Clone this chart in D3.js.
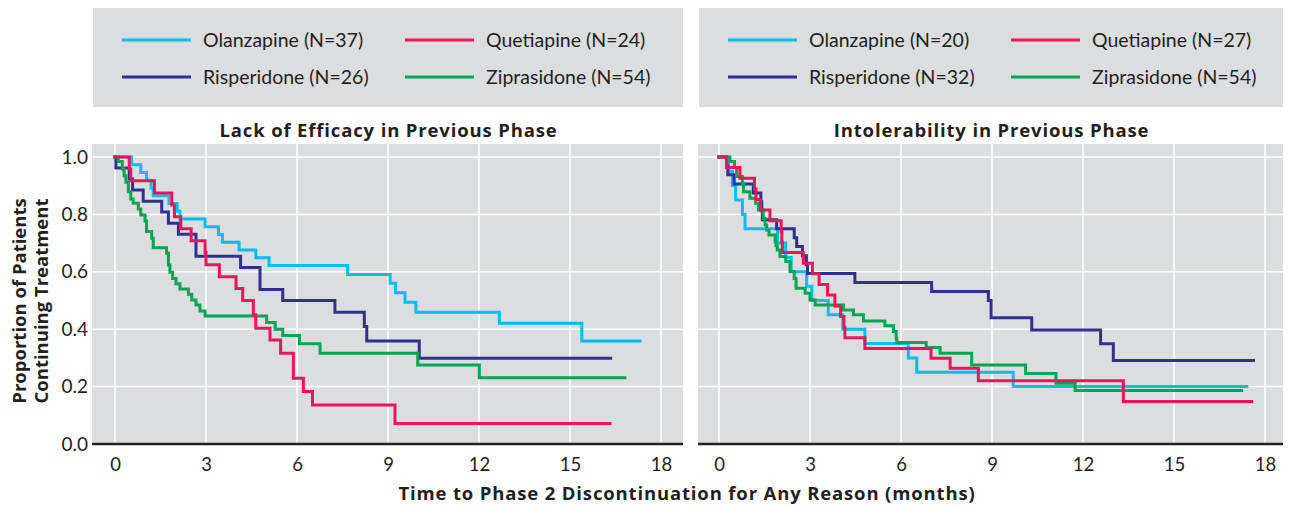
<!DOCTYPE html>
<html>
<head>
<meta charset="utf-8">
<script src="https://cdn.jsdelivr.net/npm/d3@7"></script>
<style>
  body { margin: 0; background: #fff; }
  text { font-family: Lato, "Open Sans", sans-serif; fill: #231f20; }
  .bold { font-family: "Open Sans", Lato, sans-serif; font-weight: bold; }
</style>
</head>
<body>
<script>
// drug names / colours
const drugs = ['Olanzapine', 'Quetiapine', 'Risperidone', 'Ziprasidone']
const colors = ['#00bdf2', '#ee1459', '#2e3192', '#00a651']

const effN = [37, 24, 26, 54]
const tolN = [20, 27, 32, 54]

const xTicks = [0, 3, 6, 9, 12, 15, 18]
const yTicks = [0, 0.2, 0.4, 0.6, 0.8, 1.0]

// Lack of efficacy in previous phase: [month, proportion]
const effOlanzapine = [[0,1],[0.55,0.973],[0.85,0.946],[1.04,0.919],[1.19,0.892],[1.26,0.865],[1.78,0.838],[2.05,0.811],[2.14,0.784],[2.97,0.757],[3.41,0.73],[3.54,0.703],[4.09,0.676],[4.64,0.649],[5.08,0.622],[7.67,0.591],[9.07,0.56],[9.25,0.527],[9.56,0.494],[9.92,0.459],[12.67,0.421],[15.39,0.359],[17.31,0.359]]
const effQuetiapine = [[0,1],[0.47,0.958],[0.52,0.917],[1.3,0.875],[1.87,0.833],[1.96,0.792],[2.17,0.75],[2.51,0.708],[2.97,0.667],[3.0,0.625],[3.44,0.583],[3.99,0.542],[4.21,0.5],[4.56,0.45],[4.64,0.403],[5.11,0.362],[5.46,0.316],[5.88,0.229],[6.21,0.183],[6.51,0.136],[9.23,0.071],[16.32,0.071]]
const effRisperidone = [[0,1],[0.03,0.962],[0.47,0.923],[0.58,0.885],[0.93,0.846],[1.54,0.808],[1.76,0.769],[2.09,0.731],[2.67,0.654],[4.14,0.615],[4.78,0.538],[5.53,0.5],[7.25,0.459],[8.22,0.409],[8.3,0.359],[10.03,0.299],[16.34,0.299]]
const effZiprasidone = [[0,1],[0.11,0.984],[0.24,0.958],[0.3,0.935],[0.36,0.912],[0.44,0.879],[0.52,0.854],[0.6,0.839],[0.77,0.819],[0.85,0.798],[0.99,0.777],[1.04,0.74],[1.21,0.717],[1.26,0.684],[1.7,0.665],[1.76,0.624],[1.81,0.598],[1.9,0.577],[2.01,0.558],[2.14,0.54],[2.42,0.522],[2.53,0.502],[2.67,0.484],[2.8,0.463],[2.97,0.446],[5.0,0.423],[5.28,0.4],[5.53,0.378],[6.08,0.349],[6.76,0.316],[9.98,0.275],[12.01,0.231],[16.81,0.231]]

// Intolerability in previous phase
const tolOlanzapine = [[0,1],[0.31,0.95],[0.44,0.9],[0.55,0.85],[0.77,0.8],[0.86,0.75],[1.93,0.7],[2.2,0.65],[2.38,0.6],[2.89,0.55],[3.06,0.5],[3.6,0.45],[4.08,0.4],[4.81,0.35],[6.24,0.3],[6.52,0.25],[9.7,0.2],[17.4,0.2]]
const tolQuetiapine = [[0,1],[0.25,0.963],[0.69,0.926],[1.17,0.889],[1.22,0.852],[1.37,0.815],[1.68,0.778],[2.05,0.741],[2.07,0.704],[2.09,0.667],[2.78,0.63],[3.08,0.593],[3.3,0.556],[3.58,0.519],[3.82,0.481],[4.01,0.444],[4.12,0.407],[4.15,0.37],[4.81,0.333],[6.99,0.299],[7.62,0.264],[8.55,0.22],[13.33,0.148],[17.56,0.148]]
const tolRisperidone = [[0,1],[0.25,0.969],[0.29,0.938],[0.5,0.906],[1.13,0.875],[1.38,0.844],[1.41,0.813],[1.43,0.781],[1.9,0.75],[2.48,0.719],[2.56,0.688],[2.75,0.656],[2.88,0.625],[2.92,0.594],[4.48,0.563],[7.01,0.531],[8.88,0.5],[8.97,0.44],[10.31,0.397],[12.58,0.349],[13.0,0.291],[17.62,0.291]]
const tolZiprasidone = [[0,1],[0.36,0.984],[0.51,0.963],[0.58,0.932],[0.77,0.908],[0.81,0.879],[1.02,0.856],[1.21,0.839],[1.3,0.815],[1.46,0.786],[1.52,0.763],[1.57,0.746],[1.65,0.728],[1.85,0.705],[1.88,0.691],[1.92,0.676],[2.01,0.653],[2.2,0.636],[2.34,0.601],[2.48,0.577],[2.54,0.543],[2.84,0.525],[3.0,0.502],[3.17,0.484],[4.1,0.467],[4.43,0.45],[4.76,0.429],[5.47,0.412],[5.75,0.392],[5.84,0.368],[5.86,0.354],[6.83,0.336],[7.29,0.316],[8.33,0.275],[10.11,0.246],[11.11,0.212],[11.74,0.186],[17.23,0.186]]

const width = 1289, height = 506

const svg = d3.select('body').append('svg')
  .attr('width', width)
  .attr('height', height)

const y = d3.scaleLinear().domain([0, 1]).range([444, 157])

const panels = [
  { title: 'Lack of Efficacy in Previous Phase', n: effN, series: [effOlanzapine, effQuetiapine, effRisperidone, effZiprasidone],
    boxX: 92, boxW: 591, x0: 115 },
  { title: 'Intolerability in Previous Phase', n: tolN, series: [tolOlanzapine, tolQuetiapine, tolRisperidone, tolZiprasidone],
    boxX: 698, boxW: 585, x0: 719 }
]

panels.forEach((p, pi) => {
  const g = svg.append('g')
  const x = d3.scaleLinear().domain([0, 18]).range([p.x0, p.x0 + 546])

  // legend box
  g.append('rect')
    .attr('x', p.boxX + 1).attr('y', 8)
    .attr('width', p.boxW - 1).attr('height', 99)
    .attr('fill', '#dcdddf')
  drugs.forEach((name, i) => {
    const col = i % 2, row = Math.floor(i / 2)
    // Olanzapine / Quetiapine on top, Risperidone / Ziprasidone below
    const lx = p.boxX + 30 + col * 283
    const ly = 40 + row * 37
    g.append('line')
      .attr('x1', lx).attr('x2', lx + 69)
      .attr('y1', ly).attr('y2', ly)
      .attr('stroke', colors[i]).attr('stroke-width', 3)
    g.append('text')
      .attr('x', lx + 81).attr('y', ly + 7)
      .attr('font-size', 19.5)
      .text(`${name} (N=${p.n[i]})`)
  })

  // title
  g.append('text').attr('class', 'bold')
    .attr('x', p.boxX + p.boxW / 2 + 1).attr('y', 137)
    .attr('text-anchor', 'middle')
    .attr('font-size', 18.5).attr('letter-spacing', 0.85)
    .text(p.title)

  // plot background
  g.append('rect')
    .attr('x', p.boxX).attr('y', 144)
    .attr('width', p.boxW).attr('height', 300)
    .attr('fill', '#dcdddf')

  // grid
  g.append('g').selectAll('line').data(xTicks).join('line')
    .attr('x1', d => x(d)).attr('x2', d => x(d))
    .attr('y1', 144).attr('y2', 444)
    .attr('stroke', '#fff').attr('stroke-width', 1.5)
  g.append('g').selectAll('line').data(yTicks.filter(d => d > 0)).join('line')
    .attr('x1', p.boxX).attr('x2', p.boxX + p.boxW)
    .attr('y1', d => y(d)).attr('y2', d => y(d))
    .attr('stroke', '#fff').attr('stroke-width', 1.5)

  // curves
  const line = d3.line()
    .x(d => x(d[0])).y(d => y(d[1]))
    .curve(d3.curveStepAfter)
  g.append('g').selectAll('path').data([0, 2, 3, 1]).join('path')
    .attr('d', d => line(p.series[d]))
    .attr('fill', 'none')
    .attr('stroke', d => colors[d])
    .attr('stroke-width', 3)
    .attr('stroke-linejoin', 'miter')
    .attr('stroke-linecap', 'square')

  // baseline axis
  g.append('line')
    .attr('x1', p.boxX).attr('x2', p.boxX + p.boxW)
    .attr('y1', 444).attr('y2', 444)
    .attr('stroke', '#231f20').attr('stroke-width', 2.5)

  // x tick labels
  const xAxis = d3.axisBottom(x).tickValues(xTicks).tickSize(0).tickPadding(14)
  const ax = g.append('g').attr('transform', 'translate(0,444)').call(xAxis)
  ax.select('.domain').remove()
  ax.selectAll('text').attr('font-size', 18.5).attr('font-family', 'Lato, sans-serif').attr('fill', '#231f20')

  if (pi === 0) {
    const yAxis = d3.axisLeft(y).tickValues(yTicks).tickFormat(d3.format('.1f')).tickSize(0).tickPadding(4)
    const ay = g.append('g').attr('transform', `translate(${p.boxX},0)`).call(yAxis)
    ay.select('.domain').remove()
    ay.selectAll('text').attr('font-size', 19).attr('font-family', 'Lato, sans-serif').attr('fill', '#231f20')
  }
})

// axis titles
svg.append('text').attr('class', 'bold')
  .attr('transform', 'translate(26,301) rotate(-90)')
  .attr('text-anchor', 'middle')
  .attr('font-size', 18.5)
  .text('Proportion of Patients')
svg.append('text').attr('class', 'bold')
  .attr('transform', 'translate(48,301) rotate(-90)')
  .attr('text-anchor', 'middle')
  .attr('font-size', 18.5)
  .text('Continuing Treatment')

svg.append('text').attr('class', 'bold')
  .attr('x', 687).attr('y', 500)
  .attr('text-anchor', 'middle')
  .attr('font-size', 18.5).attr('letter-spacing', 0.85)
  .text('Time to Phase 2 Discontinuation for Any Reason (months)')
</script>
</body>
</html>
